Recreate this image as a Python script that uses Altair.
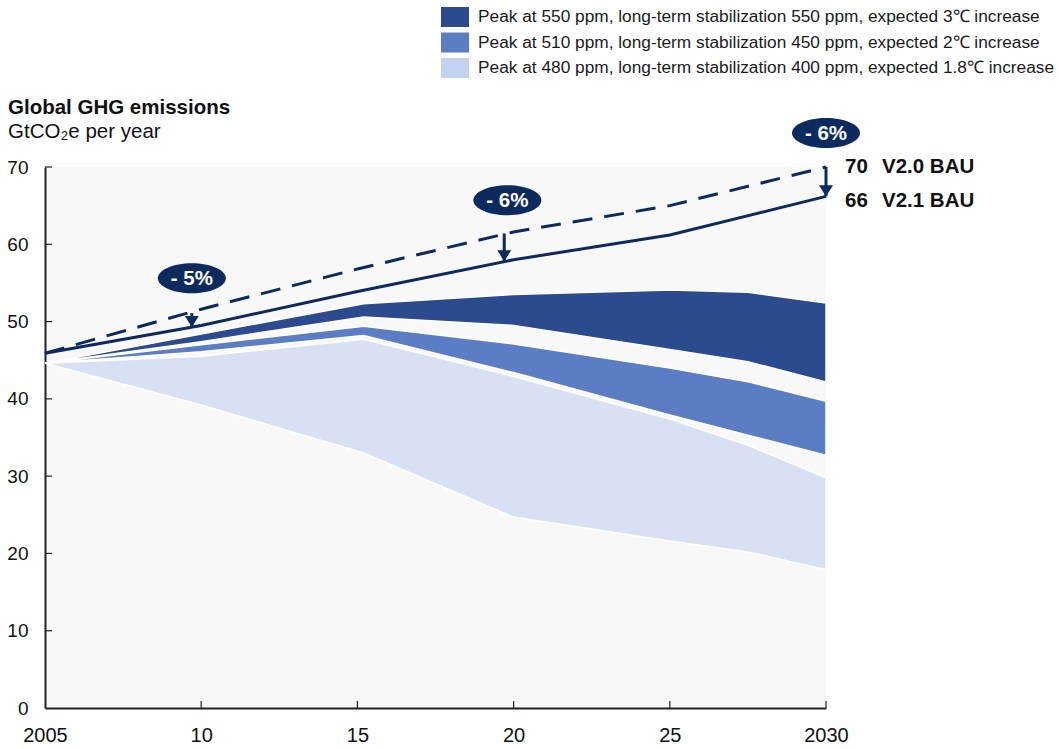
import altair as alt
import pandas as pd

# ---------------- data ----------------
bau20_years = [2005, 2010, 2015, 2020, 2025, 2030]
bau20_vals = [45.9, 51.6, 56.8, 61.6, 65.0, 70.0]

bau21_years = [2005, 2010, 2015, 2020, 2025, 2030]
bau21_vals = [45.9, 49.5, 53.9, 58.0, 61.2, 66.2]

band_years = [2005, 2010, 2015.2, 2020, 2025, 2027.5, 2030]
s550_hi = [44.6, 48.4, 52.3, 53.5, 54.1, 53.8, 52.4]
s550_lo = [44.6, 47.4, 50.6, 49.5, 46.4, 44.8, 42.2]
s450_hi = [44.6, 47.0, 49.4, 47.1, 44.0, 42.2, 39.7]
s450_lo = [44.6, 46.1, 48.2, 43.4, 37.9, 35.3, 32.7]
s400_hi = [44.6, 45.5, 47.7, 42.9, 37.4, 34.0, 29.8]
s400_lo = [44.6, 39.2, 33.0, 24.7, 21.6, 20.2, 17.9]

series_names = [
    "Peak at 550 ppm, long-term stabilization 550 ppm, expected 3\u2103 increase",
    "Peak at 510 ppm, long-term stabilization 450 ppm, expected 2\u2103 increase",
    "Peak at 480 ppm, long-term stabilization 400 ppm, expected 1.8\u2103 increase",
]
series_colors = ["#2c4b8e", "#5b7dc3", "#c3d2ee"]
area_fill_light = "#d8e0f3"

arrow_years = [2009.7, 2019.7, 2030]
arrow_top = [51.1, 61.4, 70.0]
arrow_bottom = [49.3, 57.8, 66.2]
badge_years = [2009.7, 2019.8, 2030]
badge_vals = [55.6, 65.7, 74.4]
badge_labels = ["- 5%", "- 6%", "- 6%"]

end_values = ["70", "66"]
end_names = ["V2.0 BAU", "V2.1 BAU"]
end_y = [70.0, 65.6]

x_ticks = [2005, 2010, 2015, 2020, 2025, 2030]
y_ticks = [0, 10, 20, 30, 40, 50, 60, 70]

title_text = "Global GHG emissions"
subtitle_text = "GtCO\u2082e per year"

# ---------------- build ----------------
NAVY = "#0c2a5e"
FONT = "Liberation Sans"
W, H = 781, 541

xs = alt.Scale(domain=[2005, 2030], nice=False, zero=False)
ys = alt.Scale(domain=[0, 70], nice=False)
cs = alt.Scale(domain=series_names, range=series_colors)

band_rows = []
for name, hi, lo in zip(series_names, [s550_hi, s450_hi, s400_hi], [s550_lo, s450_lo, s400_lo]):
    for yr, h, l in zip(band_years, hi, lo):
        band_rows.append({"series": name, "year": yr, "hi": h, "lo": l})
bands = pd.DataFrame(band_rows)

xenc = alt.X("year:Q", scale=xs, axis=alt.Axis(
    values=x_ticks, title=None, grid=False, ticks=False,
    labelExpr="datum.value == 2005 || datum.value == 2030 ? format(datum.value, 'd') : format(datum.value - 2000, 'd')",
    labelFontSize=20, labelFont=FONT, labelColor="#111", labelPadding=17,
    domainColor="#222", domainWidth=2, labelFlush=False))
yenc_axis = alt.Axis(values=y_ticks, title=None, grid=False, ticks=False,
                     labelFontSize=19, labelFont=FONT, labelColor="#111",
                     labelPadding=17, domainColor="#222", domainWidth=2)

layers = []
for i, name in enumerate(series_names):
    fillc = area_fill_light if i == 2 else series_colors[i]
    layers.append(
        alt.Chart(bands).transform_filter(alt.datum.series == name).mark_area(
            stroke="white", strokeWidth=1.5, opacity=1, fill=fillc
        ).encode(
            x=xenc if i == 0 else alt.X("year:Q", scale=xs),
            y=alt.Y("hi:Q", scale=ys, axis=yenc_axis) if i == 0 else alt.Y("hi:Q", scale=ys),
            y2="lo:Q",
            color=alt.Color("series:N", scale=cs, title=None,
                            sort=series_names,
                            legend=alt.Legend(orient="none", legendX=400, legendY=-160,
                                              symbolType="M-1.4,-1H1.4V1H-1.4Z",
                                              symbolSize=400, symbolStrokeWidth=0,
                                              symbolOpacity=1,
                                              labelFontSize=17.3, labelFont=FONT,
                                              labelColor="#1a1a1a", labelOffset=13,
                                              rowPadding=5.5, padding=0,
                                              labelLimit=1000)),
        )
    )

# z-order: light at bottom, then medium, then dark
layers = [layers[2], layers[1], layers[0]]

bau20 = pd.DataFrame({"year": bau20_years, "v": bau20_vals})
bau21 = pd.DataFrame({"year": bau21_years, "v": bau21_vals})

line20 = alt.Chart(bau20).mark_line(color=NAVY, strokeWidth=3, strokeDash=[20, 12]).encode(
    x=alt.X("year:Q", scale=xs), y=alt.Y("v:Q", scale=ys))
line21 = alt.Chart(bau21).mark_line(color=NAVY, strokeWidth=3).encode(
    x=alt.X("year:Q", scale=xs), y=alt.Y("v:Q", scale=ys))

arrows = pd.DataFrame({"year": arrow_years, "top": arrow_top, "bottom": arrow_bottom})
shafts = alt.Chart(arrows).mark_rule(color=NAVY, strokeWidth=3).encode(
    x=alt.X("year:Q", scale=xs), y=alt.Y("top:Q", scale=ys), y2="bottom:Q")
heads = alt.Chart(arrows).mark_point(
    shape="M-1,-0.8L1,-0.8L0,0.8Z", size=196, filled=True, color=NAVY, opacity=1,
    yOffset=-5.5).encode(x=alt.X("year:Q", scale=xs), y=alt.Y("bottom:Q", scale=ys))

badges = pd.DataFrame({"year": badge_years, "v": badge_vals, "label": badge_labels})
ell = alt.Chart(badges).mark_point(
    shape="M-1,0A1,0.44,0,1,0,1,0A1,0.44,0,1,0,-1,0Z", size=4624, filled=True,
    color=NAVY, opacity=1).encode(x=alt.X("year:Q", scale=xs), y=alt.Y("v:Q", scale=ys))
ell_txt = alt.Chart(badges).mark_text(
    color="white", fontSize=20.5, fontWeight="bold", font=FONT, align="center",
    baseline="middle", dy=1).encode(
    x=alt.X("year:Q", scale=xs), y=alt.Y("v:Q", scale=ys), text="label:N")

ends = pd.DataFrame({"val": end_values, "name": end_names, "v": end_y})
end_val = alt.Chart(ends).mark_text(
    fontSize=20.5, fontWeight="bold", font=FONT, align="left", baseline="middle",
    color="#111").encode(x=alt.value(W + 19), y=alt.Y("v:Q", scale=ys), text="val:N")
end_name = alt.Chart(ends).mark_text(
    fontSize=20.5, fontWeight="bold", font=FONT, align="left", baseline="middle",
    color="#111").encode(x=alt.value(W + 56), y=alt.Y("v:Q", scale=ys), text="name:N")

xt = pd.DataFrame({"year": x_ticks[1:]})
xtick = alt.Chart(xt).mark_rule(color="#222", strokeWidth=1.2).encode(
    x=alt.X("year:Q", scale=xs), y=alt.value(H), y2=alt.value(H - 7))
yt = pd.DataFrame({"v": y_ticks[1:]})
ytick = alt.Chart(yt).mark_rule(color="#222", strokeWidth=1.2).encode(
    y=alt.Y("v:Q", scale=ys), x=alt.value(0), x2=alt.value(7))

titles = pd.DataFrame({"t": [title_text], "s": [subtitle_text]})
t1 = alt.Chart(titles).mark_text(fontSize=20.5, fontWeight="bold", font=FONT, align="left",
                                 baseline="alphabetic", color="#111").encode(
    x=alt.value(-37), y=alt.value(-53), text="t:N")
t2 = alt.Chart(titles).mark_text(fontSize=20.5, font=FONT, align="left",
                                 baseline="alphabetic", color="#111").encode(
    x=alt.value(-37), y=alt.value(-29), text="s:N")

chart = alt.layer(*layers, line20, line21, shafts, heads, ell, ell_txt,
                  end_val, end_name, xtick, ytick, t1, t2).properties(
    width=W, height=H,
    autosize=alt.AutoSizeParams(type="none"),
    padding={"left": 45, "top": 167, "right": 233, "bottom": 41},
    background="white",
).configure_view(stroke=None, fill="#f8f8f8")

chart.save("out.html", embed_options={"renderer": "svg", "actions": False})
